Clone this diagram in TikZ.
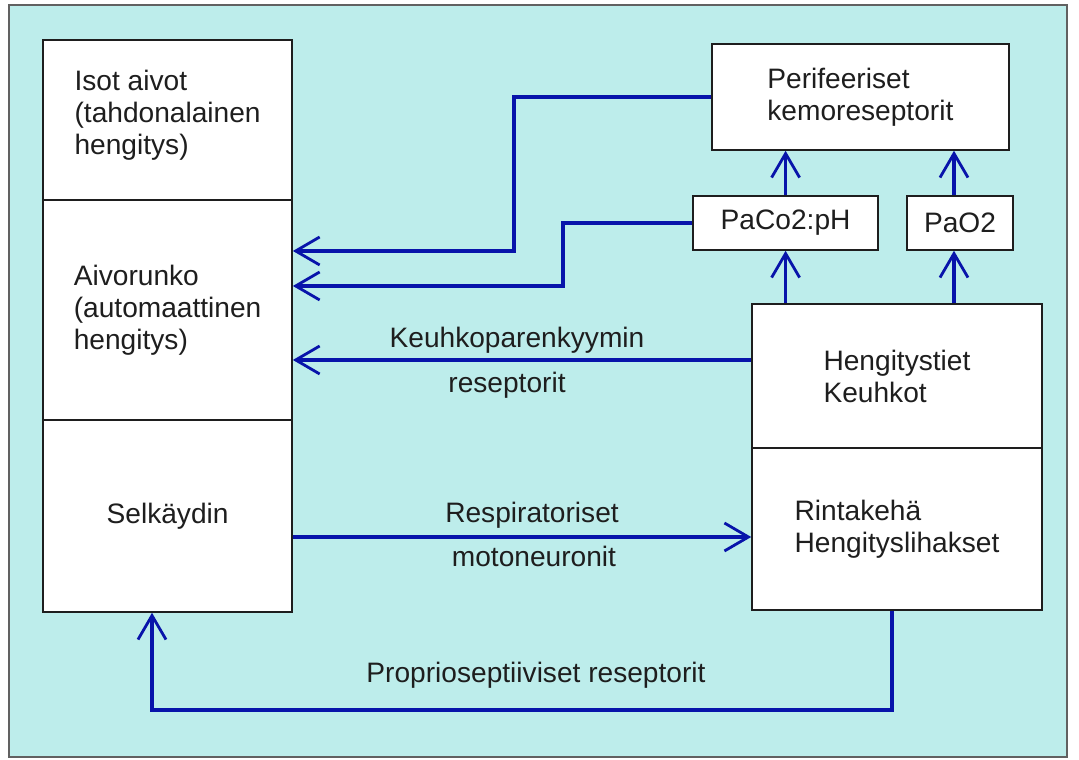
\documentclass[tikz,border=0pt]{standalone}
\usepackage{fontspec}
\setmainfont{Liberation Sans}
\usetikzlibrary{arrows.meta}

\definecolor{bgcyan}{RGB}{189,237,235}
\definecolor{linkblue}{RGB}{8,20,170}
\definecolor{inkgray}{RGB}{30,30,30}

\begin{document}
\begin{tikzpicture}[
  box/.style={
      rectangle,
      draw=inkgray,
      line width=1.1pt,
      fill=white,
      align=left,
      text=inkgray,
      inner sep=0pt,
      font=\fontsize{20}{22.8}\selectfont
  },
  lbl/.style={
      anchor=base,
      inner sep=0pt,
      text=inkgray,
      font=\fontsize{20}{22.8}\selectfont
  },
  arrow/.style={
      ->,
      draw=linkblue,
      line width=2.3pt,
      >={Straight Barb[length=0.6cm,width=0.7cm,line width=2pt]}
  }
]

\useasboundingbox (0,0) rectangle (26.975,19);

% ==================================================
% Frame
% ==================================================

\fill[white] (0,0) rectangle (26.975,19);
\filldraw[fill=bgcyan, draw=inkgray!70, line width=1pt]
      (0.225,0.075) rectangle (26.675,18.875);

% ==================================================
% Central nervous system
% ==================================================

\node[box,
      minimum width=6.225cm,
      minimum height=4.0cm]
      (aivot) at (4.19,16.0)
      {Isot aivot\\
       (tahdonalainen\\
       hengitys)\\[-0.4cm]\mbox{}};

\node[box,
      minimum width=6.225cm,
      minimum height=5.5cm]
      (runko) at (4.19,11.25)
      {Aivorunko\\
       (automaattinen\\
       hengitys)};

\node[box,
      minimum width=6.225cm,
      minimum height=4.8cm]
      (selka) at (4.19,6.1)
      {Selkäydin};

% ==================================================
% Chemoreceptors
% ==================================================

\node[box,
      minimum width=7.425cm,
      minimum height=2.65cm]
      (peri) at (21.51,16.575)
      {Perifeeriset\\
       kemoreseptorit};

\node[box,
      minimum width=4.625cm,
      minimum height=1.35cm]
      (paco) at (19.64,13.425)
      {PaCo2:pH};

\node[box,
      minimum width=2.65cm,
      minimum height=1.35cm]
      (pao) at (24.0,13.425)
      {PaO2};

% ==================================================
% Lungs and chest
% ==================================================

\node[box,
      minimum width=7.25cm,
      minimum height=3.6cm]
      (hengi) at (22.425,9.6)
      {Hengitystiet\\
       Keuhkot};

\node[box,
      minimum width=7.25cm,
      minimum height=4.05cm]
      (rinta) at (22.425,5.775)
      {Rintakehä\\
       Hengityslihakset};

% ==================================================
% Bends
% ==================================================

\coordinate (chem1) at (12.85,12.725);
\coordinate (chem2) at (14.075,11.85);
\coordinate (keu)   at ([yshift=0.4cm]hengi.west);
\coordinate (mot)   at ([yshift=-0.525cm]selka.east);
\coordinate (prop)  at (12,1.25);
\coordinate (o2)    at ([xshift=-0.15cm]pao.north);
\coordinate (o2in)  at ([xshift=-0.15cm]pao.south);

% ==================================================
% Labels
% ==================================================

\node[lbl] (lkeu) at (12.925,10.3)
      {Keuhkoparenkyymin};
\node[lbl] (lres) at (12.675,9.175)
      {reseptorit};
\node[lbl] (lresp) at (13.3,5.925)
      {Respiratoriset};
\node[lbl] (lmot) at (13.35,4.825)
      {motoneuronit};
\node[lbl] (lprop) at (13.4,1.925)
      {Proprioseptiiviset reseptorit};

% ==================================================
% Connectors
% ==================================================

\draw[arrow]
      (peri.west)
      -| (chem1)
      -- (chem1 -| runko.east);

\draw[arrow]
      (paco.west)
      -| (chem2)
      -- (chem2 -| runko.east);

\draw[arrow]
      (keu)
      -- (keu -| runko.east);

\draw[arrow]
      (mot)
      -- (mot -| rinta.west);

\draw[arrow]
      ([xshift=-0.125cm]rinta.south)
      |- (prop)
      -| ([xshift=-0.39cm]selka.south);

\draw[arrow]
      (paco.north)
      -- (paco.north |- peri.south);

\draw[arrow]
      (o2)
      -- (o2 |- peri.south);

\draw[arrow]
      (paco.south |- hengi.north)
      -- (paco.south);

\draw[arrow]
      (o2in |- hengi.north)
      -- (o2in);

\end{tikzpicture}
\end{document}
